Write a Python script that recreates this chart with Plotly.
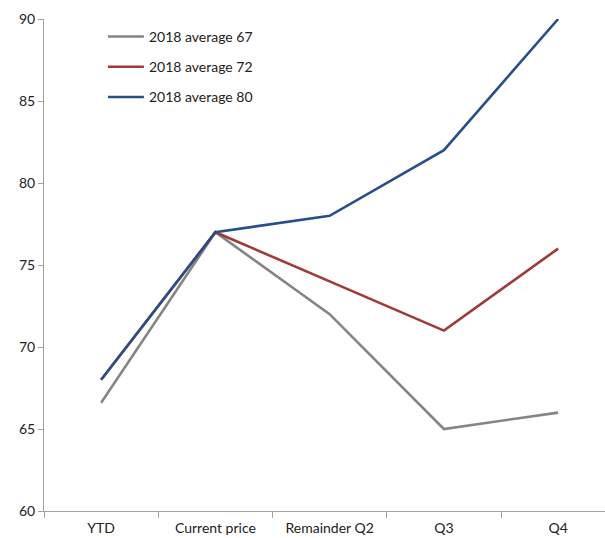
import plotly.graph_objects as go

categories = ["YTD", "Current price", "Remainder Q2", "Q3", "Q4"]
avg67 = [66.6, 77, 72, 65, 66]
avg72 = [68, 77, 74, 71, 76]
avg80 = [68, 77, 78, 82, 90]
names = ["2018 average 67", "2018 average 72", "2018 average 80"]
colors = ["#858585", "#9E3A37", "#27508A"]
y_ticks = [60, 65, 70, 75, 80, 85, 90]

fig = go.Figure()
for vals, name, col in zip([avg67, avg72, avg80], names, colors):
    fig.add_trace(go.Scatter(x=categories, y=vals, name=name, mode="lines",
                             legendgroup=name,
                             line=dict(color=col, width=2.6)))

fig.update_layout(
    width=605, height=538,
    margin=dict(l=44, r=0, t=19, b=27),
    plot_bgcolor="white", paper_bgcolor="white",
    font=dict(family="Lato, sans-serif", size=13, color="#333333"),
    showlegend=True,
    legend=dict(x=0.105, y=0.996, xanchor="left", yanchor="top",
                bgcolor="rgba(0,0,0,0)", font=dict(size=14, color="#222222"),
                tracegroupgap=9, itemwidth=36),
)
fig.update_xaxes(type="category", range=[-0.5, 4.41], showgrid=False,
                 showline=True, linecolor="#a0a0a0", linewidth=1,
                 ticks="outside", tickson="boundaries", ticklen=6,
                 ticklabelstandoff=4,
                 tickcolor="#a0a0a0", tickfont=dict(size=14, color="#222222"))
fig.update_yaxes(range=[60, 90], tickvals=y_ticks, showgrid=False,
                 showline=True, linecolor="#a0a0a0", linewidth=1,
                 ticks="outside", ticklen=5, tickcolor="#a0a0a0",
                 zeroline=False, tickfont=dict(size=14, color="#222222"))

fig.write_html("out.html")
